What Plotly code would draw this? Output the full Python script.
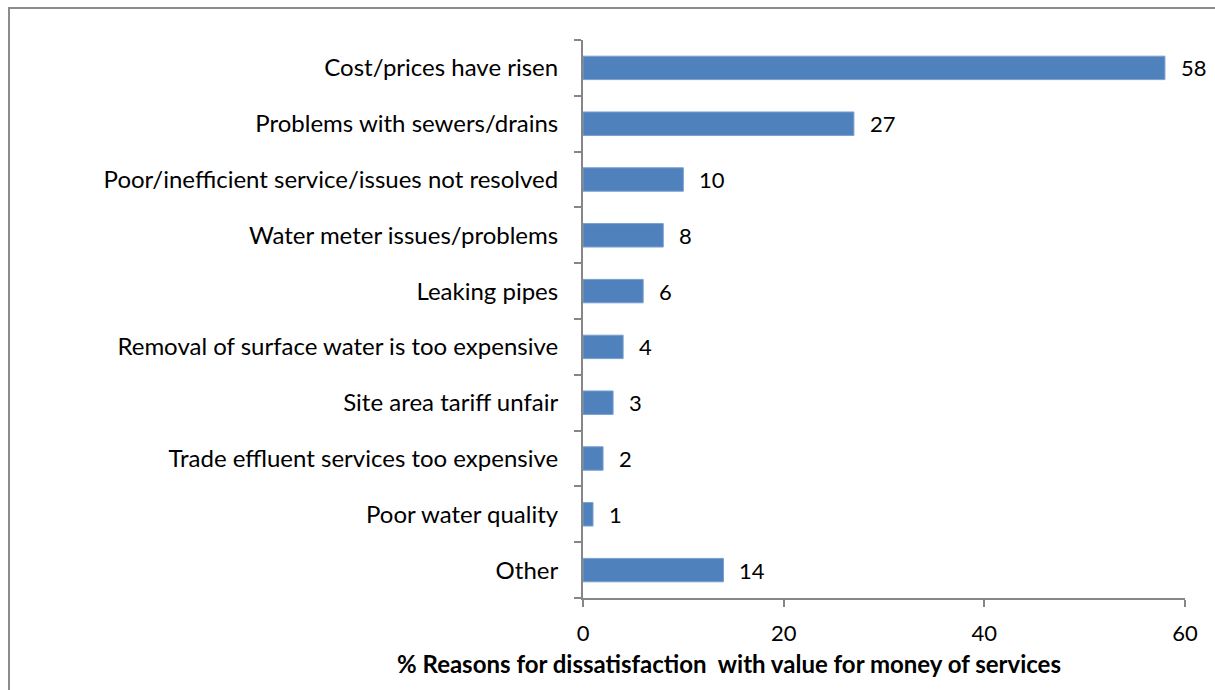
import plotly.graph_objects as go

# Reasons for dissatisfaction, listed top to bottom
reasons = [
    "Cost/prices have risen",
    "Problems with sewers/drains",
    "Poor/inefficient service/issues not resolved",
    "Water meter issues/problems",
    "Leaking pipes",
    "Removal of surface water is too expensive",
    "Site area tariff unfair",
    "Trade effluent services too expensive",
    "Poor water quality",
    "Other",
]
percentages = [58, 27, 10, 8, 6, 4, 3, 2, 1, 14]

x_ticks = [0, 20, 40, 60]
axis_title = "% Reasons for dissatisfaction  with value for money of services"

FONT = "Lato"
BAR = "#4F81BD"
AXIS = "#868686"

W, H = 1215, 690
L, R, T, B = 583, 30, 40, 92

fig = go.Figure()
fig.add_trace(go.Bar(
    x=percentages,
    y=reasons,
    orientation="h",
    marker=dict(color=BAR, line=dict(color="#7A9FCF", width=1)),
    width=0.42,
    hoverinfo="x+y",
))

# value labels just past each bar end
for r, v in zip(reasons, percentages):
    fig.add_annotation(
        x=v, y=r, xref="x", yref="y",
        text=str(v), showarrow=False,
        xanchor="left", yanchor="middle", xshift=14, yshift=0,
        font=dict(family=FONT, size=22, color="#000000"),
    )

# axis title, centred under the whole chart body
fig.add_annotation(
    x=(729 - L) / (W - L - R), y=-(663 - (H - B)) / (H - B - T),
    xref="paper", yref="paper", text="<b>" + axis_title + "</b>",
    showarrow=False, xanchor="center", yanchor="middle",
    font=dict(family=FONT, size=24, color="#000000"),
)

# chart border
pw, ph = W - L - R, H - B - T
fig.add_shape(
    type="rect", xref="paper", yref="paper",
    x0=(9 - L) / pw, x1=(1240 - L) / pw,
    y0=-(720 - (H - B)) / ph, y1=1 + (T - 8) / ph,
    line=dict(color="#8C8C8C", width=2), fillcolor="rgba(0,0,0,0)",
    layer="below",
)

fig.update_layout(
    width=W, height=H,
    margin=dict(l=L, r=R, t=T, b=B),
    paper_bgcolor="white", plot_bgcolor="white",
    showlegend=False,
    font=dict(family=FONT, size=22, color="#000000"),
    xaxis=dict(
        range=[0, 60], tickvals=x_ticks, ticktext=[str(t) for t in x_ticks],
        showgrid=False, zeroline=False,
        showline=True, linecolor=AXIS, linewidth=2,
        ticks="outside", ticklen=7, tickcolor=AXIS, tickwidth=2,
        ticklabelstandoff=8,
        tickfont=dict(family=FONT, size=22, color="#000000"),
        fixedrange=True,
    ),
    yaxis=dict(
        categoryorder="array", categoryarray=list(reversed(reasons)),
        showgrid=False, zeroline=False,
        showline=True, linecolor=AXIS, linewidth=2,
        ticks="outside", ticklen=7, tickcolor=AXIS, tickwidth=2,
        tickson="boundaries",
        ticklabelstandoff=18,
        tickfont=dict(family=FONT, size=24, color="#000000"),
        fixedrange=True,
    ),
)

fig.write_html("out.html")
